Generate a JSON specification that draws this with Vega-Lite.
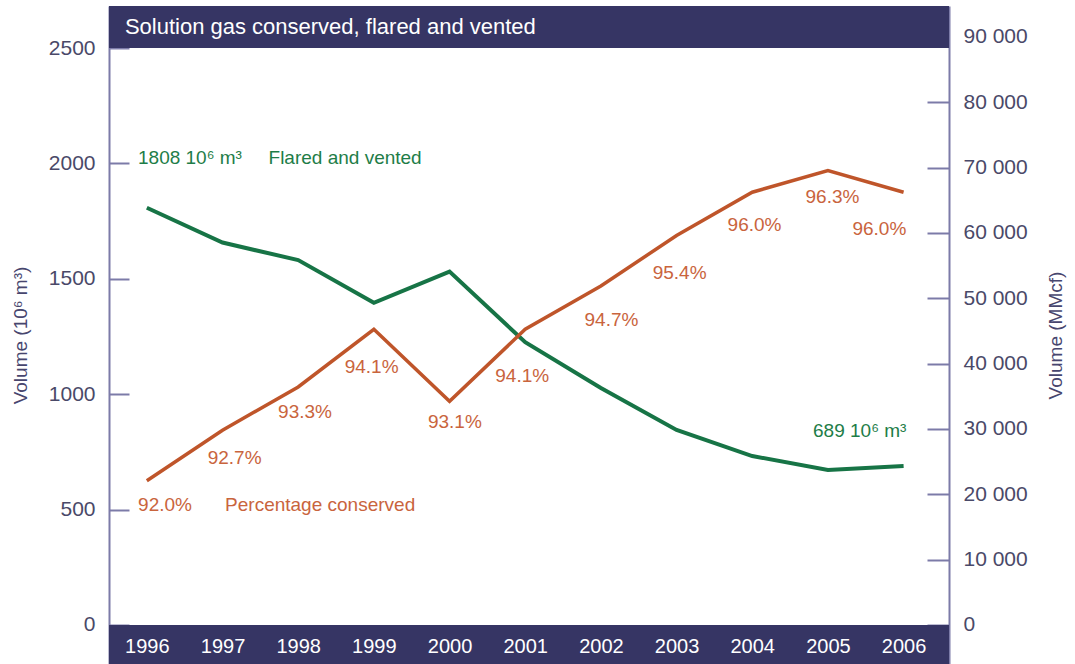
{
  "$schema": "https://vega.github.io/schema/vega-lite/v6.json",
  "autosize": "none",
  "padding": {"left": 109, "top": 6, "right": 126, "bottom": 0},
  "width": 840,
  "height": 658,
  "background": "white",
  "config": {
    "view": {"stroke": null},
    "font": "Liberation Sans",
    "text": {"font": "Liberation Sans"}
  },
  "datasets": {
    "series": [
      {"year": 1996, "flared": 1808, "conserved_pct": 92.0},
      {"year": 1997, "flared": 1657, "conserved_pct": 92.7},
      {"year": 1998, "flared": 1581, "conserved_pct": 93.3},
      {"year": 1999, "flared": 1396, "conserved_pct": 94.1},
      {"year": 2000, "flared": 1531, "conserved_pct": 93.1},
      {"year": 2001, "flared": 1225, "conserved_pct": 94.1},
      {"year": 2002, "flared": 1027, "conserved_pct": 94.7},
      {"year": 2003, "flared": 845, "conserved_pct": 95.4},
      {"year": 2004, "flared": 732, "conserved_pct": 96.0},
      {"year": 2005, "flared": 672, "conserved_pct": 96.3},
      {"year": 2006, "flared": 689, "conserved_pct": 96.0}
    ],
    "notes": [
      {"series": "conserved", "label": "92.0%", "x": 1996.24, "y": 520},
      {"series": "conserved", "label": "92.7%", "x": 1997.16, "y": 724},
      {"series": "conserved", "label": "93.3%", "x": 1998.09, "y": 923},
      {"series": "conserved", "label": "94.1%", "x": 1998.97, "y": 1118},
      {"series": "conserved", "label": "93.1%", "x": 2000.07, "y": 880},
      {"series": "conserved", "label": "94.1%", "x": 2000.96, "y": 1080},
      {"series": "conserved", "label": "94.7%", "x": 2002.14, "y": 1322},
      {"series": "conserved", "label": "95.4%", "x": 2003.04, "y": 1525},
      {"series": "conserved", "label": "96.0%", "x": 2004.03, "y": 1733},
      {"series": "conserved", "label": "96.3%", "x": 2005.06, "y": 1854},
      {"series": "conserved", "label": "96.0%", "x": 2005.68, "y": 1716},
      {"series": "conserved", "label": "Percentage conserved", "x": 1998.29, "y": 520},
      {"series": "flared", "label": "1808 10⁶ m³", "x": 1996.57, "y": 2023},
      {"series": "flared", "label": "Flared and vented", "x": 1998.62, "y": 2023},
      {"series": "flared", "label": "689 10⁶ m³", "x": 2005.42, "y": 840}
    ]
  },
  "layer": [
    {
      "layer": [
        {
          "data": {"values": [{}]},
          "mark": {"type": "rect", "color": "#363564"},
          "encoding": {
            "y": {"datum": 2500, "type": "quantitative", "scale": {"domain": [-169, 2682], "nice": false, "zero": false},
              "axis": {
                "orient": "left",
                "values": [0, 500, 1000, 1500, 2000, 2500],
                "format": "d",
                "grid": false,
                "domainColor": "#7c7ba8",
                "domainWidth": 2,
                "tickColor": "#7c7ba8",
                "tickWidth": 2,
                "tickSize": -20,
                "labelPadding": 34,
                "labelFontSize": 21,
                "labelColor": "#4a4968",
                "labelFont": "Liberation Sans",
                "title": "Volume (10⁶ m³)",
                "titleFont": "Liberation Sans",
                "titleFontSize": 19,
                "titleFontWeight": "normal",
                "titleColor": "#47466e",
                "titlePadding": 18,
                "zindex": 0
              }
            },
            "y2": {"datum": 2682}
          }
        },
        {
          "data": {"values": [{}]},
          "mark": {"type": "rect", "color": "#363564"},
          "encoding": {
            "y": {"datum": -169, "type": "quantitative"},
            "y2": {"datum": 0}
          }
        },
        {
          "data": {"name": "series"},
          "mark": {"type": "line", "color": "#177446", "strokeWidth": 4},
          "encoding": {
            "x": {"field": "year", "type": "quantitative", "scale": {"domain": [1995.5, 2006.6], "nice": false, "zero": false},
              "axis": {
                "orient": "bottom",
                "offset": -39,
                "values": [1996, 1997, 1998, 1999, 2000, 2001, 2002, 2003, 2004, 2005, 2006],
                "format": "d",
                "grid": false,
                "domain": false,
                "ticks": false,
                "labelColor": "white",
                "labelFontSize": 20,
                "labelFont": "Liberation Sans",
                "labelBaseline": "middle",
                "labelPadding": 21,
                "labelFlush": false,
                "title": null,
                "zindex": 1
              }
            },
            "y": {"field": "flared", "type": "quantitative"}
          }
        },
        {
          "data": {"name": "notes"},
          "transform": [{"filter": "datum.series == 'conserved'"}],
          "mark": {"type": "text", "color": "#c9643d", "fontSize": 19, "align": "center", "baseline": "middle"},
          "encoding": {
            "x": {"field": "x", "type": "quantitative"},
            "y": {"field": "y", "type": "quantitative"},
            "text": {"field": "label"}
          }
        },
        {
          "data": {"name": "notes"},
          "transform": [{"filter": "datum.series == 'flared'"}],
          "mark": {"type": "text", "color": "#1e7d48", "fontSize": 19, "align": "center", "baseline": "middle"},
          "encoding": {
            "x": {"field": "x", "type": "quantitative"},
            "y": {"field": "y", "type": "quantitative"},
            "text": {"field": "label"}
          }
        },
        {
          "data": {"values": [{}]},
          "mark": {"type": "text", "color": "white", "fontSize": 22, "align": "left", "baseline": "middle", "text": "Solution gas conserved, flared and vented"},
          "encoding": {
            "x": {"datum": 1995.71, "type": "quantitative"},
            "y": {"datum": 2592, "type": "quantitative"}
          }
        }
      ]
    },
    {
      "data": {"name": "series"},
      "mark": {"type": "line", "color": "#bf552a", "strokeWidth": 3.5},
      "encoding": {
        "x": {"field": "year", "type": "quantitative"},
        "y": {"field": "conserved_pct", "type": "quantitative", "scale": {"domain": [89.459, 98.582], "nice": false, "zero": false}, "axis": null}
      }
    },
    {
      "data": {"values": [{}]},
      "mark": {"type": "rule", "opacity": 0},
      "encoding": {
        "y": {"datum": 0, "type": "quantitative", "scale": {"domain": [-5968, 94714], "nice": false, "zero": false},
          "axis": {
            "orient": "right",
            "values": [0, 10000, 20000, 30000, 40000, 50000, 60000, 70000, 80000, 90000],
            "labelExpr": "replace(format(datum.value, ','), ',', ' ')",
            "grid": false,
            "domainColor": "#7c7ba8",
            "domainWidth": 2,
            "tickColor": "#7c7ba8",
            "tickWidth": 2,
            "tickSize": -22,
            "labelPadding": 36,
            "labelFontSize": 21,
            "labelColor": "#4a4968",
            "labelFont": "Liberation Sans",
            "title": "Volume (MMcf)",
            "titleAngle": 270,
            "titleFont": "Liberation Sans",
            "titleFontSize": 19,
            "titleFontWeight": "normal",
            "titleColor": "#47466e",
            "titlePadding": 38,
            "zindex": 0
          }
        }
      }
    }
  ],
  "resolve": {"scale": {"y": "independent"}}
}
